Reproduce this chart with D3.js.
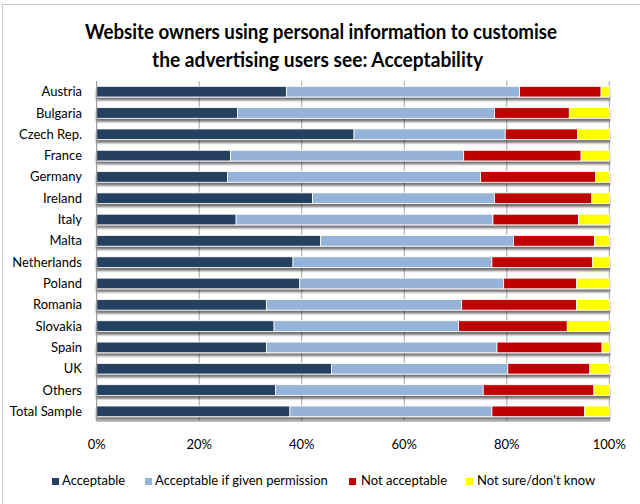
<!DOCTYPE html>
<html><head><meta charset="utf-8">
<script src="https://cdn.jsdelivr.net/npm/d3@7"></script>
<style>
body{margin:0;background:#fff;}
svg{display:block;font-family:Lato,"Open Sans",sans-serif;}
</style></head>
<body>
<svg id="chart" width="640" height="504"></svg>
<script>
const categories = ["Austria","Bulgaria","Czech Rep.","France","Germany","Ireland","Italy","Malta","Netherlands","Poland","Romania","Slovakia","Spain","UK","Others","Total Sample"];
const seriesNames = ["Acceptable","Acceptable if given permission","Not acceptable","Not sure/don't know"];
const acceptable   = [37.0,27.5,50.2,26.1,25.5,42.1,27.2,43.7,38.3,39.6,33.1,34.6,33.1,45.8,34.9,37.7];
const ifPermission = [45.5,50.1,29.5,45.5,49.4,35.5,50.1,37.6,38.8,39.8,38.1,36.0,45.0,34.4,40.5,39.4];
const notAccept    = [15.9,14.6,14.1,22.9,22.4,19.0,16.7,15.8,19.6,14.2,22.4,21.2,20.5,16.0,21.6,18.1];
const notSure      = [1.6,7.8,6.2,5.5,2.7,3.4,6.0,2.9,3.3,6.4,6.4,8.2,1.4,3.8,3.0,4.8];
const tickValues = [0,20,40,60,80,100];
const colors = ["#254061","#95B3D7","#C00000","#FFFF00"];
const titleLines = ["Website owners using personal information to customise","the advertising users see: Acceptability"];

const rows = categories.map((c,i)=>({cat:c, v:[acceptable[i],ifPermission[i],notAccept[i],notSure[i]]}));
const svg = d3.select("#chart");

// outer frame
svg.append("rect").attr("x",2.5).attr("y",4.5).attr("width",660).attr("height",520)
  .attr("fill","none").attr("stroke","#c8c8c8").attr("stroke-width",1);

const defs = svg.append("defs");
const f = defs.append("filter").attr("id","sh").attr("x","-5%").attr("y","-30%").attr("width","110%").attr("height","200%");
f.append("feGaussianBlur").attr("in","SourceAlpha").attr("stdDeviation",1.3).attr("result","b");
f.append("feOffset").attr("in","b").attr("dx",0).attr("dy",2.5).attr("result","o");
f.append("feComponentTransfer").attr("in","o").attr("result","o2").append("feFuncA").attr("type","linear").attr("slope",0.55);
const m = f.append("feMerge"); m.append("feMergeNode").attr("in","o2"); m.append("feMergeNode").attr("in","SourceGraphic");

const x = d3.scaleLinear().domain([0,100]).range([96.7,609.3]);
const y = d3.scaleBand().domain(categories).range([81,422]).paddingInner(0.5).paddingOuter(0.25);

// gridlines
svg.append("g").selectAll("line").data(tickValues.slice(1)).join("line")
  .attr("x1",d=>x(d)).attr("x2",d=>x(d)).attr("y1",81).attr("y2",421)
  .attr("stroke","#a6a6a6").attr("stroke-width",1);

// bars
const g = svg.append("g");
rows.forEach(r=>{
  let acc=0;
  const segs = r.v.map((v,k)=>{const s={x0:acc,x1:acc+v,k}; acc+=v; return s;});
  const rg = g.append("g").attr("filter","url(#sh)");
  rg.selectAll("rect").data(segs).join("rect")
    .attr("x",d=>x(d.x0)).attr("width",d=>Math.max(0,x(d.x1)-x(d.x0)))
    .attr("y",y(r.cat)).attr("height",y.bandwidth())
    .attr("fill",d=>colors[d.k]).attr("stroke","#ffffff").attr("stroke-width",0.8);
});

// axes lines
svg.append("line").attr("x1",96.7).attr("x2",96.7).attr("y1",81).attr("y2",421).attr("stroke","#8c8c8c");
svg.append("line").attr("x1",96.7).attr("x2",609.8).attr("y1",421).attr("y2",421).attr("stroke","#8c8c8c");

// category labels
svg.append("g").selectAll("text").data(categories).join("text")
  .attr("x",82).attr("y",d=>y(d)+y.bandwidth()/2).attr("dy","0.35em")
  .attr("text-anchor","end").attr("font-size",13).attr("fill","#000").text(d=>d);

// x tick labels
svg.append("g").selectAll("text").data(tickValues).join("text")
  .attr("x",d=>x(d)).attr("y",449).attr("text-anchor","middle")
  .attr("font-size",13).attr("fill","#000").text(d=>d+"%");

// title
const tl = [[85,557,39],[152,483,67]];
svg.append("g").selectAll("text").data(titleLines).join("text")
  .attr("x",(d,i)=>tl[i][0]).attr("y",(d,i)=>tl[i][2])
  .attr("textLength",(d,i)=>tl[i][1]-tl[i][0]).attr("lengthAdjust","spacingAndGlyphs")
  .attr("font-size",20.5).attr("font-weight","bold").attr("fill","#000").text(d=>d);

// legend
const legX = [[52,62],[145,155],[349,361],[466,477]];
const lg = svg.append("g");
seriesNames.forEach((n,i)=>{
  lg.append("rect").attr("x",legX[i][0]).attr("y",478).attr("width",7).attr("height",7).attr("fill",colors[i]);
  lg.append("text").attr("x",legX[i][1]).attr("y",485).attr("font-size",13).attr("fill","#000").text(n);
});
</script>
</body></html>
